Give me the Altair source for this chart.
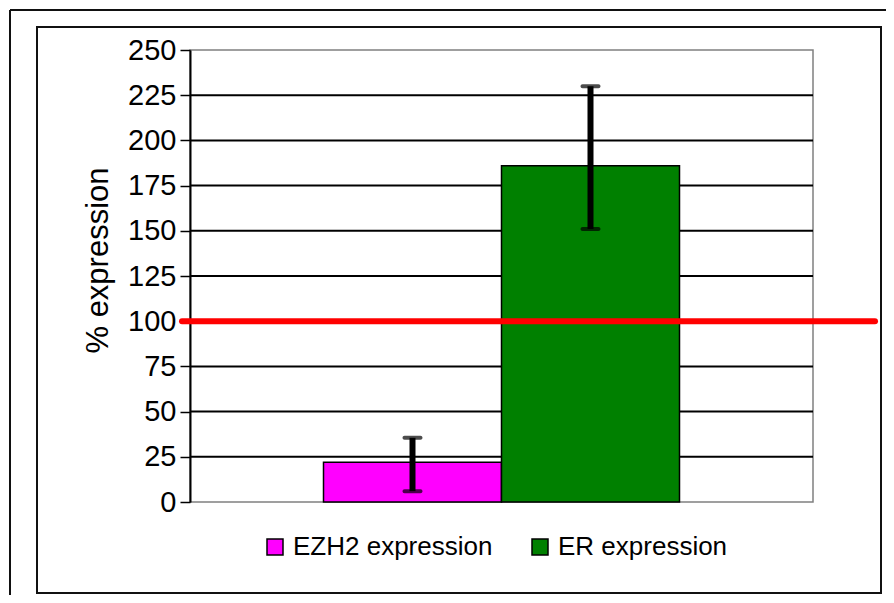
import altair as alt
import pandas as pd

categories = ["EZH2 expression", "ER expression"]
values = [22, 186]
err_low = [6, 151]
err_high = [35.5, 230]
colors = ["#FF00FF", "#008000"]
tick_values = [0, 25, 50, 75, 100, 125, 150, 175, 200, 225, 250]
grid_values = [25, 50, 75, 100, 125, 150, 175, 200, 225]
reference_level = [100]

FONT = "Liberation Sans"

bars_df = pd.DataFrame({"cat": categories, "val": values, "lo": err_low, "hi": err_high})
grid_df = pd.DataFrame({"g": grid_values})
ref_df = pd.DataFrame({"r": reference_level})
one = alt.Data(values=[{}])

xscale = alt.Scale(domain=categories, paddingInner=0, paddingOuter=0.75)
yscale = alt.Scale(domain=[0, 250], nice=False)

x_enc = alt.X("cat:N", scale=xscale, axis=None)

outer_top = alt.Chart(one).mark_rule(color="#111", strokeWidth=2).encode(
    x=alt.value(-180), x2=alt.value(720), y=alt.value(-40))
outer_left = alt.Chart(one).mark_rule(color="#111", strokeWidth=2).encode(
    x=alt.value(-180), y=alt.value(-40), y2=alt.value(560))
inner_frame = alt.Chart(one).mark_rect(fillOpacity=0, stroke="#111", strokeWidth=2).encode(
    x=alt.value(-153), x2=alt.value(691), y=alt.value(-23), y2=alt.value(543))

grid = alt.Chart(grid_df).mark_rule(color="black", strokeWidth=2).encode(
    y=alt.Y("g:Q", scale=yscale))

bars = alt.Chart(bars_df).mark_bar(stroke="black", strokeWidth=1.5).encode(
    x=x_enc,
    y=alt.Y("val:Q", scale=yscale,
            axis=alt.Axis(values=tick_values, grid=False, title="% expression",
                          labelFont=FONT, labelFontSize=29, labelColor="black",
                          labelPadding=4, tickSize=10, tickColor="black", tickWidth=1.5,
                          domainColor="black", domainWidth=2,
                          titleFont=FONT, titleFontSize=31, titleFontWeight="normal",
                          titleColor="black", titlePadding=13, titleY=210)),
    color=alt.Color("cat:N", scale=alt.Scale(domain=categories, range=colors),
                    legend=alt.Legend(title=None, orient="none", legendX=72, legendY=484,
                                      direction="horizontal", symbolType="square",
                                      symbolSize=256, symbolStrokeColor="black",
                                      symbolStrokeWidth=1.5, labelFont=FONT,
                                      labelFontSize=26, labelColor="black", labelLimit=400,
                                      labelOffset=5, columnPadding=34, padding=0)),
)

err_rule = alt.Chart(bars_df).mark_rule(color="black", strokeWidth=6).encode(
    x=x_enc, y=alt.Y("lo:Q", scale=yscale), y2="hi:Q")
cap_hi = alt.Chart(bars_df).mark_tick(color="black", size=20, thickness=4, cornerRadius=2).encode(
    x=x_enc, y=alt.Y("hi:Q", scale=yscale))
cap_lo = alt.Chart(bars_df).mark_tick(color="black", size=20, thickness=4, cornerRadius=2).encode(
    x=x_enc, y=alt.Y("lo:Q", scale=yscale))

ref_line = alt.Chart(ref_df).mark_rule(color="#FF0000", strokeWidth=6, strokeCap="round").encode(
    y=alt.Y("r:Q", scale=yscale), x=alt.value(-8), x2=alt.value(685))

chart = alt.layer(
    outer_top, outer_left, inner_frame, grid, bars, err_rule, cap_hi, cap_lo, ref_line
).properties(
    width=623, height=452,
    autosize=alt.AutoSizeParams(type="none"),
    padding={"left": 182, "top": 42, "right": 73, "bottom": 93},
).configure_view(stroke="#808080", strokeWidth=1.5)

chart.save("out.html", embed_options={"renderer": "svg", "actions": False})
